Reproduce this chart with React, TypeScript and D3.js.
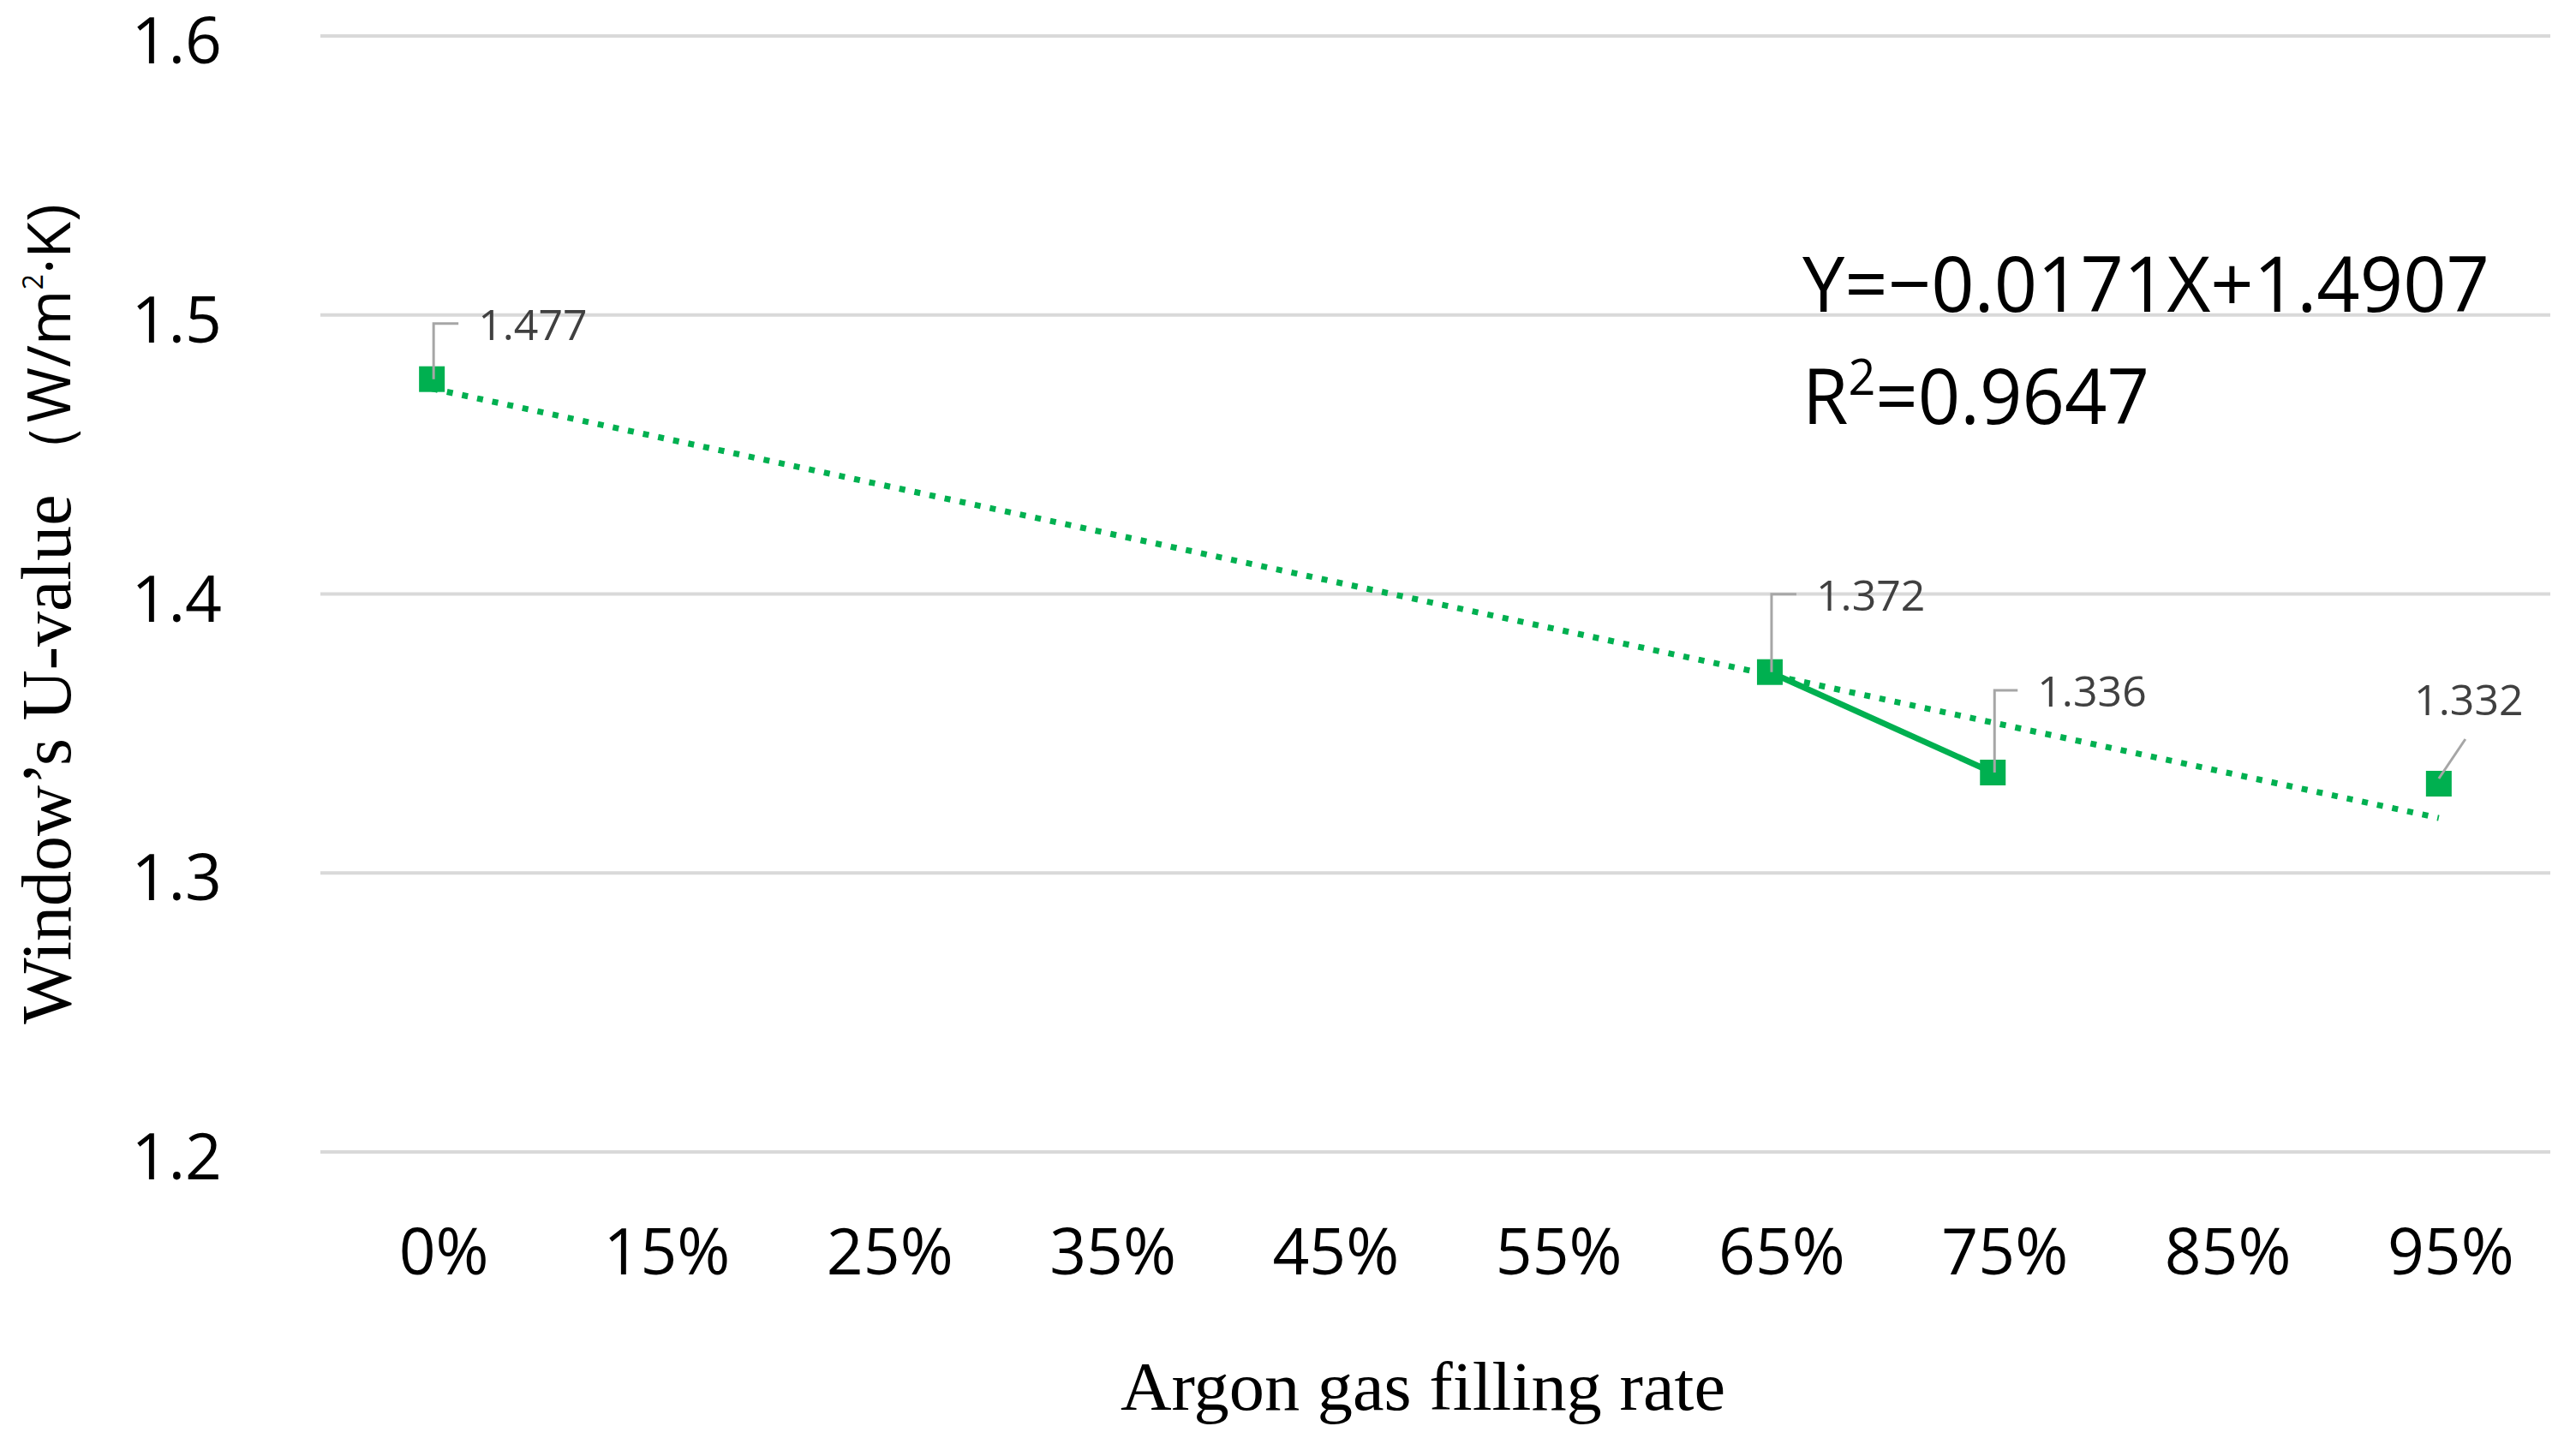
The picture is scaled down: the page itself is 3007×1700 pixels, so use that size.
import * as d3 from "d3";

const categories = ["0%", "15%", "25%", "35%", "45%", "55%", "65%", "75%", "85%", "95%"];
const uValues: (number | null)[] = [1.477, null, null, null, null, null, 1.372, 1.336, null, 1.332];
const yTicks = [1.2, 1.3, 1.4, 1.5, 1.6];
const trendSlope = -0.0171;
const trendIntercept = 1.4907;
const trendEquation = "Y=\u22120.0171X+1.4907";
const rSquared = "0.9647";

// label placement relative to the point (px), per category index
const labelOffsets: Record<number, { dx: number; dy: number; diag?: boolean }> = {
  0: { dx: 54, dy: -65 },
  6: { dx: 54, dy: -91 },
  7: { dx: 52, dy: -96 },
  9: { dx: 35, dy: -99, diag: true },
};

const W = 3007;
const H = 1700;
const GREEN = "#00b050";
const SANS = "'Open Sans', 'Noto Sans', sans-serif";
const SERIF = "'Liberation Serif', 'DejaVu Serif', serif";
const LEFT = 374;
const RIGHT = 2977;

export default function App() {
  const x = d3.scaleBand<string>().domain(categories).range([LEFT, RIGHT]).padding(0);
  const cx = (i: number) => (x(categories[i]) as number) + x.bandwidth() / 2;
  const y = d3.scaleLinear().domain([1.2, 1.6]).range([1345, 42]);

  const pts = uValues.map((v, i) => ({ i, v }));
  const line = d3
    .line<{ i: number; v: number | null }>()
    .defined((d) => d.v != null)
    .x((d) => cx(d.i))
    .y((d) => y(d.v as number));

  // linear trendline, X = 1..n
  const n = categories.length;
  const trend = d3
    .line<number>()
    .x((k) => cx(k))
    .y((k) => y(trendSlope * (k + 1) + trendIntercept));

  return (
    <svg width={W} height={H} style={{ position: "absolute", left: 0, top: 0, background: "#fff" }}>
      {yTicks.map((t) => (
        <g key={t}>
          <line x1={LEFT} x2={RIGHT} y1={y(t)} y2={y(t)} stroke="#d9d9d9" strokeWidth={4} />
          <text
            x={259}
            y={y(t) + 3}
            textAnchor="end"
            dominantBaseline="central"
            fontFamily={SANS}
            fontSize={75}
            fill="#000"
          >
            {t.toFixed(1)}
          </text>
        </g>
      ))}

      {categories.map((c, i) => (
        <text
          key={c}
          x={cx(i) + 14}
          y={1488}
          textAnchor="middle"
          fontFamily={SANS}
          fontSize={75}
          fill="#000"
        >
          {c}
        </text>
      ))}

      <path
        d={trend([0, n - 1]) as string}
        fill="none"
        stroke={GREEN}
        strokeWidth={7}
        strokeDasharray="7 11"
      />
      <path d={line(pts) as string} fill="none" stroke={GREEN} strokeWidth={7} />

      {pts
        .filter((d) => d.v != null)
        .map((d) => (
          <rect key={d.i} x={cx(d.i) - 15} y={y(d.v as number) - 15} width={30} height={30} fill={GREEN} />
        ))}

      {pts
        .filter((d) => d.v != null)
        .map((d) => {
          const px = cx(d.i);
          const py = y(d.v as number);
          const o = labelOffsets[d.i];
          const path = o.diag
            ? `M${px},${py - 6}L${px + 31},${py - 52}`
            : `M${px + 2},${py}L${px + 2},${py + o.dy}L${px + o.dx - 23},${py + o.dy}`;
          return (
            <g key={d.i}>
              <path d={path} fill="none" stroke="#a6a6a6" strokeWidth={3} />
              <text
                x={px + o.dx}
                y={py + o.dy}
                textAnchor={o.diag ? "middle" : "start"}
                dominantBaseline="central"
                fontFamily={SANS}
                fontSize={50}
                fill="#404040"
              >
                {(d.v as number).toFixed(3)}
              </text>
            </g>
          );
        })}

      <text x={2104} y={364} fontFamily={SANS} fontSize={90} fill="#000" textLength={802} lengthAdjust="spacingAndGlyphs">
        {trendEquation}
      </text>
      <text x={2104} y={495} fontFamily={SANS} fontSize={90} fill="#000" textLength={405} lengthAdjust="spacingAndGlyphs">
        R<tspan fontSize={58} dy={-34}>2</tspan>
        <tspan dy={34}>={rSquared}</tspan>
      </text>

      <text
        x={1661}
        y={1646}
        textAnchor="middle"
        fontFamily={SERIF}
        fontSize={80}
        fill="#000"
        textLength={706}
        lengthAdjust="spacingAndGlyphs"
      >
        Argon gas filling rate
      </text>

      <text
        transform={`translate(82,717) rotate(-90)`}
        textAnchor="middle"
        fontFamily={SERIF}
        fontSize={82}
        fill="#000"
      >
        Window’s U-value
        <tspan fontFamily={SANS} fontSize={70} dx={14}>（W/m</tspan>
        <tspan fontFamily={SANS} fontSize={32} dy={-32}>2</tspan>
        <tspan fontFamily={SANS} fontSize={70} dy={32}>·K)</tspan>
      </text>
    </svg>
  );
}
